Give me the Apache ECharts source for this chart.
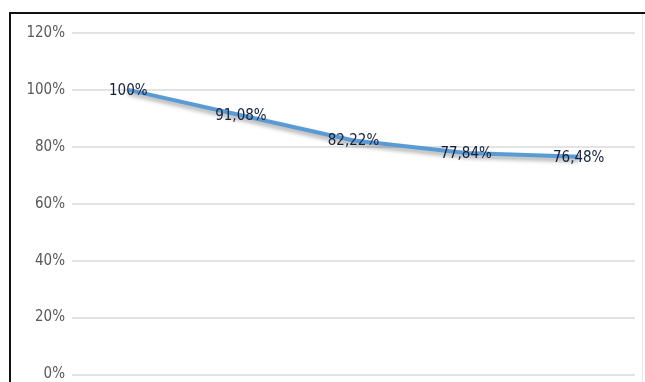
<!DOCTYPE html>
<html>
<head>
<meta charset="utf-8">
<script src="https://cdn.jsdelivr.net/npm/echarts@6/dist/echarts.min.js"></script>
<style>
  html, body { margin: 0; padding: 0; background: #fff; }
  #chart { width: 645px; height: 382px; }
</style>
</head>
<body>
<div id="chart"></div>
<script>
// Retention share per period, in percent
const categories = ['P1', 'P2', 'P3', 'P4', 'P5'];
const retention = [100, 91.08, 82.22, 77.84, 76.48];
const yTicks = [0, 20, 40, 60, 80, 100, 120];

const fontFamily = "'DejaVu Sans Condensed', 'Liberation Sans Narrow', 'Liberation Sans', sans-serif";

// Values are printed with a decimal comma, as in the source workbook
function pct(v) {
  return String(v).replace('.', ',') + '%';
}

const chart = echarts.init(document.getElementById('chart'));
chart.setOption({
  animation: false,
  backgroundColor: '#fff',
  grid: { left: 72, right: 10, top: 33, bottom: 2, containLabel: false },
  xAxis: {
    type: 'category',
    data: categories,
    boundaryGap: true,
    axisLine: { show: false },
    axisTick: { show: false },
    axisLabel: { show: false }
  },
  yAxis: {
    type: 'value',
    min: yTicks[0],
    max: yTicks[yTicks.length - 1],
    interval: 20,
    axisLine: { show: false },
    axisTick: { show: false },
    axisLabel: {
      formatter: v => v + '%',
      color: '#595959',
      fontFamily: fontFamily,
      fontSize: 15,
      margin: 7
    },
    splitLine: { lineStyle: { color: '#e3e3e3', width: 2 } }
  },
  series: [{
    type: 'line',
    data: retention,
    symbol: 'circle',
    symbolSize: 1,
    showSymbol: true,
    itemStyle: { color: 'rgba(0,0,0,0)' },
    smooth: false,
    lineStyle: {
      color: '#5b9bd5',
      width: 4,
      shadowColor: 'rgba(0,0,0,0.35)',
      shadowBlur: 4,
      shadowOffsetY: 3
    },
    label: {
      show: true,
      position: 'inside',
      offset: [0, 1],
      formatter: p => pct(p.value),
      color: '#14213a',
      fontFamily: fontFamily,
      fontSize: 15
    }
  }],
  graphic: [
    { type: 'rect', shape: { x: 9, y: 12, width: 636, height: 2 }, style: { fill: '#111' }, silent: true },
    { type: 'rect', shape: { x: 9, y: 12, width: 2, height: 370 }, style: { fill: '#111' }, silent: true },
    { type: 'rect', shape: { x: 642, y: 14, width: 1, height: 368 }, style: { fill: '#e6e6e6' }, silent: true }
  ]
});
</script>
</body>
</html>
